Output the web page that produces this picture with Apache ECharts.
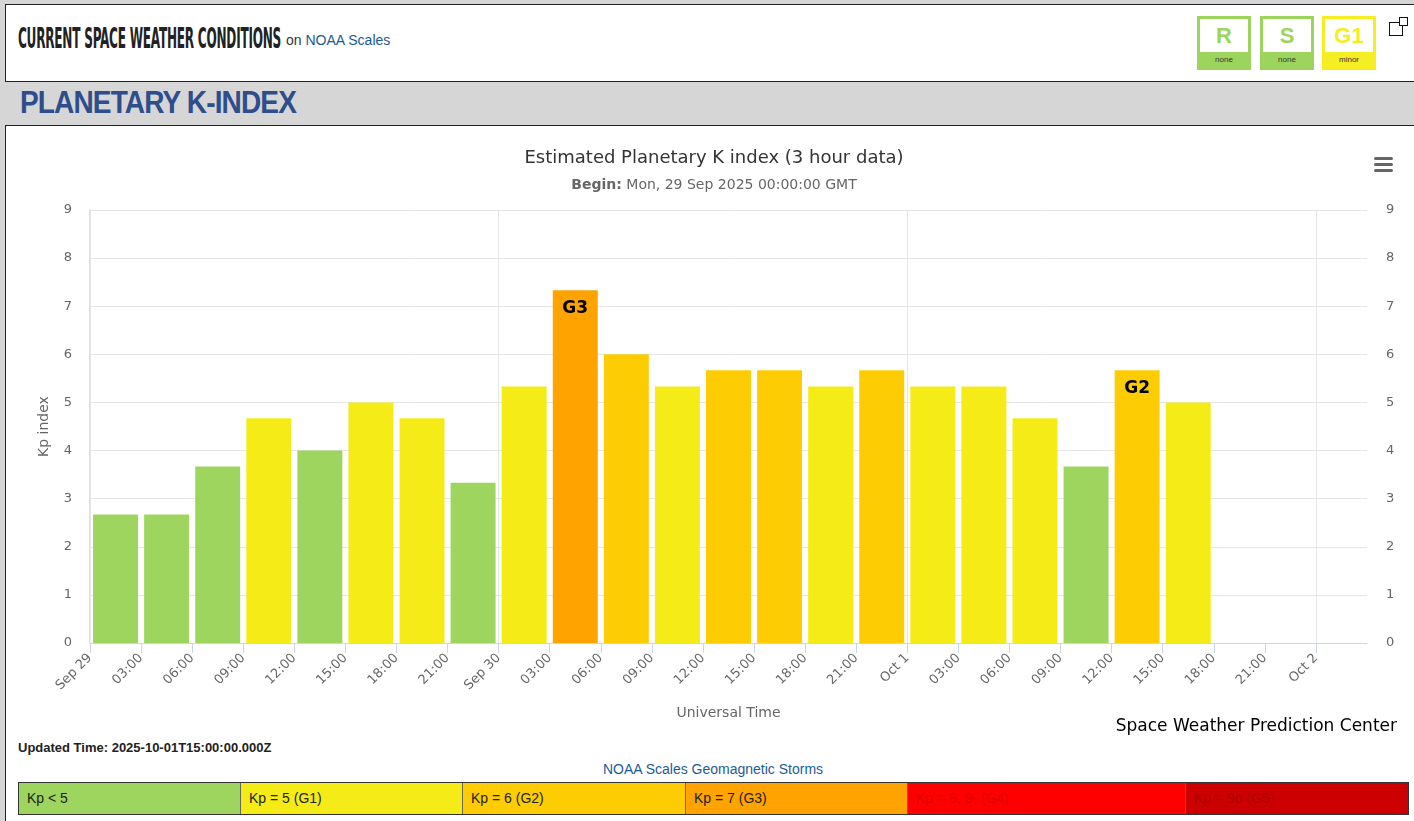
<!DOCTYPE html>
<html>
<head>
<meta charset="utf-8">
<script src="https://cdn.jsdelivr.net/npm/echarts@6/dist/echarts.min.js"></script>
<style>
  html, body { margin:0; padding:0; width:1414px; height:821px; overflow:hidden; background:#d6d6d6; font-family:"Liberation Sans", Arial, sans-serif; }
  #topbox { position:absolute; left:5px; top:4px; width:1430px; height:76px; background:#fff; border:1px solid #222; }
  #hdr { position:absolute; left:18px; top:21px; white-space:nowrap; }
  #hdrBig { display:inline-block; font-family:"DejaVu Sans Condensed","DejaVu Sans",sans-serif; font-weight:bold; font-size:29px; color:#222; transform-origin:0 0; letter-spacing:-0.5px; }
  #hdrSmall { position:absolute; left:286px; top:32px; font-size:14px; color:#333; white-space:nowrap; }
  #hdrSmall span { color:#1a5a96; }
  .badge { position:absolute; top:16px; width:48px; height:48px; border:3px solid; background:#fff; }
  .badge .l { position:absolute; left:0; right:0; top:4px; text-align:center; font-weight:bold; font-size:22px; }
  .badge .s { position:absolute; left:0; right:0; bottom:0; height:15px; line-height:15px; text-align:center; font-size:8px; color:#333; }
  #pop1 { position:absolute; left:1389px; top:22px; width:12px; height:12px; border:1.5px solid #111; background:#fff; }
  #pop2 { position:absolute; left:1399px; top:17px; width:7px; height:7px; border:1.5px solid #111; background:#fff; }
  #band { position:absolute; left:20px; top:84px; font-weight:bold; font-size:32px; color:#2e4d8b; white-space:nowrap; transform-origin:0 0; letter-spacing:-1px; }
  #chartbox { position:absolute; left:5px; top:125px; width:1430px; height:720px; background:#fff; border:1px solid #222; }
  #updated { position:absolute; left:18px; top:740px; font-weight:bold; font-size:13px; color:#222; white-space:nowrap; }
  #scales { position:absolute; left:0; width:1426px; top:761px; text-align:center; font-size:14px; color:#1b5c97; }
  #legbar { position:absolute; left:18px; top:782px; width:1389px; height:31px; border:1px solid #333; display:flex; }
  #legbar div { height:31px; line-height:31px; padding-left:8px; box-sizing:border-box; font-size:14px; border-right:1px solid #666; }
  #chart { position:absolute; left:0; top:0; width:1414px; height:821px; }
</style>
</head>
<body>
<div id="topbox"></div>
<div id="hdr"><span id="hdrBig">CURRENT SPACE WEATHER CONDITIONS</span></div>
<div id="hdrSmall">on <span>NOAA Scales</span></div>
<div class="badge" style="left:1197px;border-color:#9dd45d"><div class="l" style="color:#9dd45d">R</div><div class="s" style="background:#9dd45d">none</div></div>
<div class="badge" style="left:1260px;border-color:#9dd45d"><div class="l" style="color:#9dd45d">S</div><div class="s" style="background:#9dd45d">none</div></div>
<div class="badge" style="left:1322px;border-color:#f4ee22"><div class="l" style="color:#f4ee22">G1</div><div class="s" style="background:#f4ee22">minor</div></div>
<div id="pop1"></div><div id="pop2"></div>
<div id="band">PLANETARY K-INDEX</div>
<div id="chartbox"></div>
<div id="updated">Updated Time: 2025-10-01T15:00:00.000Z</div>
<div id="scales">NOAA Scales Geomagnetic Storms</div>
<div id="legbar"></div>
<div id="chart"></div>
<script>
// ---------- data ----------
const periodStarts = [
  'Sep 29 00:00','Sep 29 03:00','Sep 29 06:00','Sep 29 09:00','Sep 29 12:00','Sep 29 15:00','Sep 29 18:00','Sep 29 21:00',
  'Sep 30 00:00','Sep 30 03:00','Sep 30 06:00','Sep 30 09:00','Sep 30 12:00','Sep 30 15:00','Sep 30 18:00','Sep 30 21:00',
  'Oct 1 00:00','Oct 1 03:00','Oct 1 06:00','Oct 1 09:00','Oct 1 12:00','Oct 1 15:00','Oct 1 18:00','Oct 1 21:00','Oct 2 00:00'
];
const kpValues = [2.67, 2.67, 3.67, 4.67, 4.00, 5.00, 4.67, 3.33,
                  5.33, 7.33, 6.00, 5.33, 5.67, 5.67, 5.33, 5.67,
                  5.33, 5.33, 4.67, 3.67, 5.67, 5.00];
const stormLabels = ['', '', '', '', '', '', '', '',
                     '', 'G3', '', '', '', '', '', '',
                     '', '', '', '', 'G2', ''];
const timeTickLabels = ['Sep 29','03:00','06:00','09:00','12:00','15:00','18:00','21:00',
                        'Sep 30','03:00','06:00','09:00','12:00','15:00','18:00','21:00',
                        'Oct 1','03:00','06:00','09:00','12:00','15:00','18:00','21:00','Oct 2'];
const dayBoundaryHours = [0, 24, 48, 72];
const yTickLabels = ['0','1','2','3','4','5','6','7','8','9'];
const legendLabels = ['Kp < 5','Kp = 5 (G1)','Kp = 6 (G2)','Kp = 7 (G3)','Kp = 8, 9- (G4)','Kp = 9o (G5)'];

// ---------- styles ----------
const kpColors = ['#9dd55e','#f5ec17','#fecc02','#fea300','#ff0000','#cc0000'];
const kpUpper  = [4.5, 5.5, 6.5, 7.5, 9.2, 99];
function kpColor(v){ for (let i=0;i<kpUpper.length;i++){ if (v < kpUpper[i]) return kpColors[i]; } return kpColors[5]; }
const legendWidths = [222,222,223,222,278,222];
const legendText = ['#222','#222','#222','#222','#e00000','#b00000'];

// legend bar (page content)
const lb = document.getElementById('legbar');
legendLabels.forEach((t,i)=>{ const d=document.createElement('div'); d.textContent=t; d.style.width=legendWidths[i]+'px'; d.style.background=kpColors[i]; d.style.color=legendText[i]; if(i===5) d.style.borderRight='none'; lb.appendChild(d); });

// fit header texts
function fit(el, w){ const r = el.getBoundingClientRect().width; el.style.transform = 'scaleX(' + (w/r) + ')'; }
fit(document.getElementById('hdrBig'), 263);
fit(document.getElementById('band'), 276);

const font = '"DejaVu Sans", "Lucida Grande", sans-serif';
const chart = echarts.init(document.getElementById('chart'), null, {renderer:'canvas'});
const option = {
  backgroundColor: 'transparent',
  animation: false,
  textStyle: { fontFamily: font },
  grid: { left: 90, right: 47, top: 210, bottom: 178 },
  graphic: [
    { type:'text', x:0, y:0, z:10,
      style:{ text:'Estimated Planetary K index (3 hour data)', x:714, y:158, textAlign:'center', textVerticalAlign:'middle', fill:'#333', font:'18px ' + font } },
    { type:'text', x:0, y:0, z: 10,
      style:{ text:'{b|Begin:} Mon, 29 Sep 2025 00:00:00 GMT', x: 714, y: 185, textAlign:'center', textVerticalAlign:'middle', fill:'#666', font:'14px ' + font,
        rich:{ b:{ fontWeight:'bold', fontSize:14, fill:'#666', fontFamily: font } } } },
    { type:'text', x:0, y:0, z: 10,
      style:{ text:'Space Weather Prediction Center', x: 1397, y: 727, textAlign:'right', textVerticalAlign:'middle', fill:'#000', font:'17px ' + font } },
    { type:'rect', x:0, y:0, shape:{ x:1374, y:157, width:19, height:3, r:1.5 }, style:{ fill:'#666' } },
    { type:'rect', x:0, y:0, shape:{ x:1374, y:163, width:19, height:3, r:1.5 }, style:{ fill:'#666' } },
    { type:'rect', x:0, y:0, shape:{ x:1374, y:169, width:19, height:3, r:1.5 }, style:{ fill:'#666' } }
  ],
  xAxis: [
    { type:'category', data: periodStarts, position:'top', show:false, boundaryGap:true },
    { type:'value', min:0, max:75, interval:3, position:'bottom',
      axisLine:{ show:true, lineStyle:{ color:'#ccd6eb', width:1 } },
      axisTick:{ show:true, length:10, lineStyle:{ color:'#ccd6eb' } },
      splitLine:{ show:false },
      axisLabel:{ rotate:45, margin:13, color:'#666', fontSize:13, fontFamily: font, showMaxLabel:false,
        formatter: v => { const s = timeTickLabels[Math.round(v/3)]; return s === undefined ? '' : s; } },
      name:'Universal Time', nameLocation:'middle', nameGap:63,
      nameTextStyle:{ color:'#666', fontSize:14, fontFamily: font } }
  ],
  yAxis: [
    { type:'value', min:0, max:9, interval:1, position:'left',
      axisLine:{ show:true, lineStyle:{ color:'#ccd6eb', width:1.5 } }, axisTick:{ show:false },
      splitLine:{ show:true, lineStyle:{ color:'#e6e6e6', width:1 } },
      axisLabel:{ color:'#666', fontSize:13, margin:18, fontFamily: font, formatter: v => yTickLabels[v] },
      name:'Kp index', nameLocation:'middle', nameGap:39, nameRotate:90,
      nameTextStyle:{ color:'#666', fontSize:14, fontFamily: font } },
    { type:'value', min:0, max:9, interval:1, position:'right',
      axisLine:{ show:false }, axisTick:{ show:false }, splitLine:{ show:false },
      axisLabel:{ color:'#666', fontSize:13, margin:19, fontFamily: font, formatter: v => yTickLabels[v] } }
  ],
  series: [
    { type:'line', xAxisIndex:1, yAxisIndex:0, data:[], z:1, silent:true,
      markLine:{ silent:true, symbol:['none','none'], label:{ show:false },
        lineStyle:{ color:'#e6e6e6', type:'solid', width:1 },
        data: dayBoundaryHours.map(h => ({ xAxis: h })) } },
    { type:'bar', xAxisIndex:0, yAxisIndex:0, z:3, barCategoryGap:'12%',
      data: kpValues.map(v => ({ value: v, itemStyle:{ color: kpColor(v) } })),
      label:{ show:true, position:'insideTop', distance:10, color:'#000', fontWeight:'bold', fontSize:17, fontFamily: font,
        formatter: p => stormLabels[p.dataIndex] || '' } }
  ]
};
chart.setOption(option);
</script>
</body>
</html>
